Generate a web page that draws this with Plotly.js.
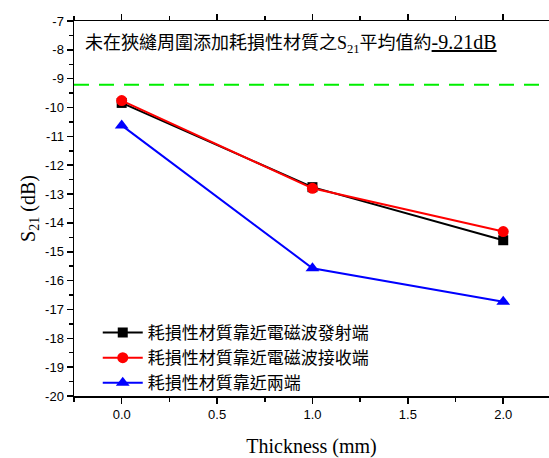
<!DOCTYPE html>
<html>
<head>
<meta charset="utf-8">
<script src="https://cdn.plot.ly/plotly-3.0.1.min.js"></script>
<style>html,body{margin:0;padding:0;background:#fff;overflow:hidden}</style>
</head>
<body>
<div id="chart" style="width:549px;height:458px"></div>
<script>
// Data
const thickness = [0, 1, 2];
const seriesNames = ["耗損性材質靠近電磁波發射端", "耗損性材質靠近電磁波接收端", "耗損性材質靠近兩端"];
const emitEnd = [-9.84, -12.76, -14.6];
const receiveEnd = [-9.76, -12.8, -14.3];
const bothEnds = [-10.62, -15.57, -16.73];
const baselineAvg = -9.21;
const xTickVals = [0, 0.5, 1, 1.5, 2];
const xTickText = ["0.0", "0.5", "1.0", "1.5", "2.0"];
const yTickVals = [-20, -19, -18, -17, -16, -15, -14, -13, -12, -11, -10, -9, -8, -7];
const yTickText = ["-20", "-19", "-18", "-17", "-16", "-15", "-14", "-13", "-12", "-11", "-10", "-9", "-8", "-7"];
const noteText = "未在狹縫周圍添加耗損性材質之S<sub>21</sub>平均值約<span style=\"font-size:20px\"><u>-9.21dB</u></span>";

const serif = "Liberation Serif, Times New Roman, serif";
const cjk = "Liberation Serif, Noto Sans CJK TC, serif";
const sans = "Liberation Sans, Arial, sans-serif";

const traces = [
  {x: thickness, y: emitEnd, name: seriesNames[0], mode: "lines+markers",
   line: {color: "#000000", width: 2}, marker: {symbol: "square", size: 10, color: "#000000"}},
  {x: thickness, y: receiveEnd, name: seriesNames[1], mode: "lines+markers",
   line: {color: "#ff0000", width: 2}, marker: {symbol: "circle", size: 11, color: "#ff0000"}},
  {x: thickness, y: bothEnds, name: seriesNames[2], mode: "lines+markers",
   line: {color: "#0000ff", width: 2}, marker: {symbol: "triangle-up", size: 12, color: "#0000ff"}}
];

const layout = {
  width: 549, height: 458,
  margin: {l: 74, r: 0, t: 21, b: 62},
  paper_bgcolor: "#ffffff", plot_bgcolor: "#ffffff",
  showlegend: true,
  legend: {x: 0.05, y: 0.216, xanchor: "left", yanchor: "top", bgcolor: "rgba(0,0,0,0)",
           font: {family: cjk, size: 17, color: "#000"}, itemwidth: 40, tracegroupgap: 0},
  xaxis: {range: [-0.25, 2.24], tickvals: xTickVals, ticktext: xTickText,
          showgrid: false, zeroline: false, showline: true, linecolor: "#000", linewidth: 1.5,
          mirror: "ticks", ticks: "outside", ticklen: 6, tickwidth: 1.5, tickcolor: "#000",
          minor: {ticks: "outside", ticklen: 4, tickwidth: 1.5, dtick: 0.25, tick0: 0, tickcolor: "#000", showgrid: false},
          tickfont: {family: sans, size: 13, color: "#000"},
          title: {text: "Thickness (mm)", font: {family: serif, size: 20, color: "#000"}, standoff: 18}},
  yaxis: {range: [-20, -7], tickvals: yTickVals, ticktext: yTickText,
          showgrid: false, zeroline: false, showline: true, linecolor: "#000", linewidth: 1.5,
          ticks: "outside", ticklen: 6, tickwidth: 1.5, tickcolor: "#000",
          minor: {ticks: "outside", ticklen: 4, tickwidth: 1.5, dtick: 0.5, tickcolor: "#000", showgrid: false},
          tickfont: {family: sans, size: 13, color: "#000"},
          title: {text: "S<sub>21</sub> (dB)", font: {family: serif, size: 20, color: "#000"}, standoff: 4}},
  shapes: [{type: "line", xref: "paper", x0: 0, x1: 1, yref: "y", y0: baselineAvg, y1: baselineAvg,
            line: {color: "#00ee00", width: 2, dash: "15px,10px"}}],
  annotations: [{xref: "paper", x: 0.019, yref: "y", y: -7.77, xanchor: "left", yanchor: "middle",
                 showarrow: false, text: noteText, font: {family: cjk, size: 18, color: "#000"}}]
};

Plotly.newPlot("chart", traces, layout, {displayModeBar: false, staticPlot: true});
</script>
</body>
</html>
